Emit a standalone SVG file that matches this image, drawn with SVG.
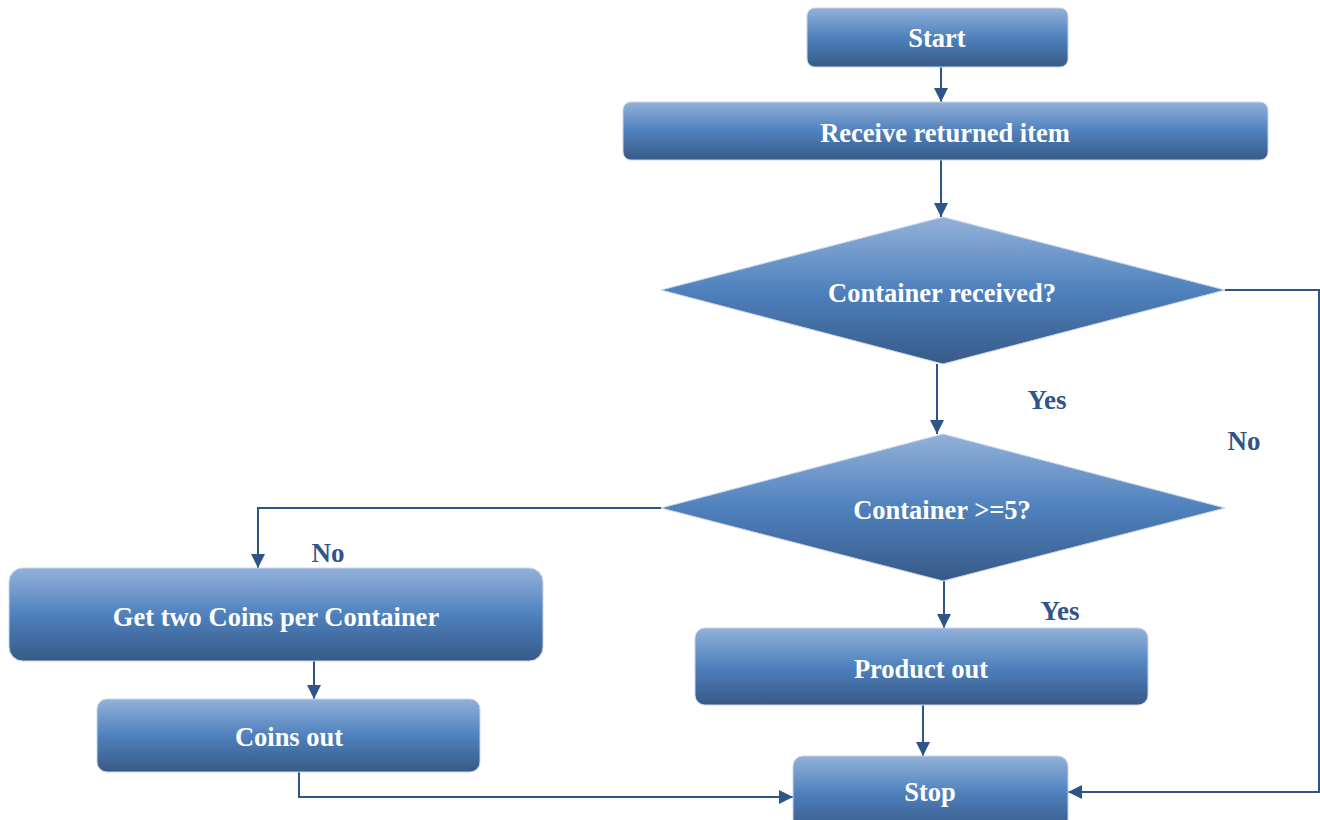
<svg xmlns="http://www.w3.org/2000/svg" width="1320" height="820" viewBox="0 0 1320 820">
<defs>
<linearGradient id="g" x1="0" y1="0" x2="0" y2="1">
<stop offset="0" stop-color="#93b1d9"/>
<stop offset="0.5" stop-color="#4f81bd"/>
<stop offset="1" stop-color="#375a88"/>
</linearGradient>
<marker id="a" viewBox="0 0 10 10" refX="10" refY="5" markerWidth="14" markerHeight="14" markerUnits="userSpaceOnUse" orient="auto">
<path d="M0,0 L10,5 L0,10 Z" fill="#2f5487"/>
</marker>
</defs>
<style>
.n{fill:url(#g);stroke:#c9d6ea;stroke-width:1}
.t{font-family:"Liberation Serif","Times New Roman",serif;font-weight:bold;font-size:26.5px;fill:#ffffff;text-anchor:middle}
.l{font-family:"Liberation Serif","Times New Roman",serif;font-weight:bold;font-size:27px;fill:#2f5487;text-anchor:middle}
.c{fill:none;stroke:#2f5487;stroke-width:2;marker-end:url(#a)}
</style>
<rect width="1320" height="820" fill="#ffffff"/>
<g id="connectors">
<path class="c" d="M941,67 V102"/>
<path class="c" d="M941,160 V217"/>
<path class="c" d="M937,364 V434"/>
<path class="c" d="M1225,290 H1319 V792 H1068"/>
<path class="c" d="M661,508 H258 V568"/>
<path class="c" d="M944,581 V628"/>
<path class="c" d="M923,705 V756"/>
<path class="c" d="M314,661 V699"/>
<path class="c" d="M299,772 V797 H793"/>
</g>
<g id="labels">
<text class="l" x="1047" y="409">Yes</text>
<text class="l" x="1244" y="450">No</text>
<text class="l" x="328" y="562">No</text>
<text class="l" x="1060" y="620">Yes</text>
</g>
<g id="start">
<rect class="n" x="807" y="8" width="261" height="59" rx="8"/>
<text class="t" x="937" y="47">Start</text>
</g>
<g id="receive">
<rect class="n" x="623" y="102" width="645" height="58" rx="8"/>
<text class="t" x="945" y="142">Receive returned item</text>
</g>
<g id="container-received">
<polygon class="n" points="943,217 1225,290 943,364 661,290"/>
<text class="t" x="942" y="302">Container received?</text>
</g>
<g id="container-ge5">
<polygon class="n" points="943,434 1225,508 943,581 661,508"/>
<text class="t" x="942" y="519">Container &gt;=5?</text>
</g>
<g id="get-coins">
<rect class="n" x="9" y="568" width="534" height="93" rx="14"/>
<text class="t" x="276" y="626">Get two Coins per Container</text>
</g>
<g id="coins-out">
<rect class="n" x="97" y="699" width="383" height="73" rx="10"/>
<text class="t" x="289" y="746">Coins out</text>
</g>
<g id="product-out">
<rect class="n" x="695" y="628" width="453" height="77" rx="10"/>
<text class="t" x="921" y="678">Product out</text>
</g>
<g id="stop">
<rect class="n" x="793" y="756" width="275" height="74" rx="10"/>
<text class="t" x="930" y="801">Stop</text>
</g>
</svg>
